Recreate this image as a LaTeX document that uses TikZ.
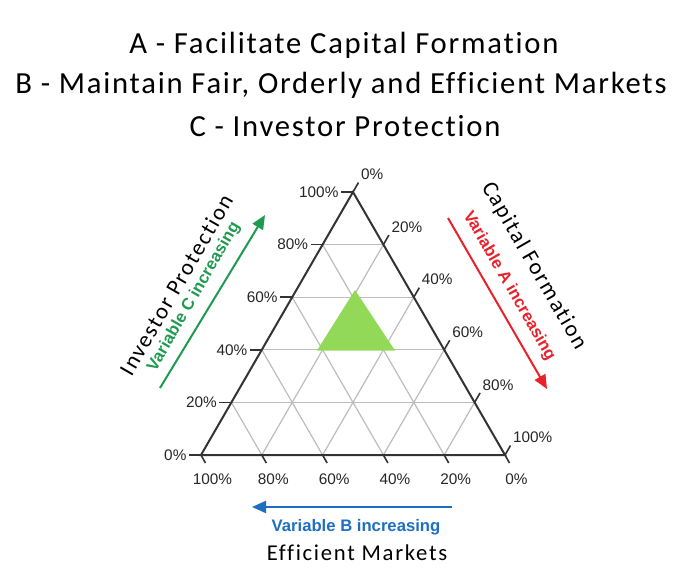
\documentclass[tikz,border=0pt]{standalone}
\usepackage{fontspec}
\setmainfont{Carlito}
\newfontfamily\titlefont[LetterSpace=5.8,Ligatures=NoCommon]{Carlito}
\newfontfamily\axisfont[LetterSpace=7.5,Ligatures=NoCommon]{Carlito}
\newfontfamily\labfont{Liberation Sans}
\usetikzlibrary{calc,arrows.meta}
\definecolor{gridgray}{HTML}{BDBDBD}
\definecolor{axisdark}{HTML}{333333}
\definecolor{varblue}{HTML}{1F6FC0}
\definecolor{varred}{HTML}{E8212B}
\definecolor{vargreen}{HTML}{1E9B50}
\definecolor{regiongreen}{HTML}{92D957}
\tikzset{
  gridline/.style={draw=gridgray, line width=0.9pt},
  axisline/.style={draw=axisdark, line width=1.5pt, line join=miter},
  tickline/.style={draw=axisdark, line width=1.2pt},
  ticklab/.style={font=\labfont\fontsize{11.5}{13}\selectfont, text=black!85, inner sep=1pt},
  vararrow/.style={line width=1.5pt, -{Triangle[length=10.5pt,width=9pt]}},
  varlab/.style={font=\labfont\bfseries\fontsize{12.5}{14}\selectfont, inner sep=0pt},
  axistitle/.style={font=\axisfont\fontsize{17}{20}\selectfont, inner sep=0pt},
  titlelab/.style={font=\titlefont\fontsize{23}{27}\selectfont, inner sep=0pt}
}
\begin{document}
\begin{tikzpicture}[x=0.75pt,y=-0.75pt]
\fill[white] (0,0) rectangle (686,582);
\useasboundingbox (0,0) rectangle (686,582);

% titles
\node[titlelab] (t1) at (344,45) {A - Facilitate Capital Formation};
\node[titlelab] (t2) at (341,85) {B - Maintain Fair, Orderly and Efficient Markets};
\node[titlelab] (t3) at (345,126) {C - Investor Protection};

% triangle corners
\coordinate (A) at (201,455);
\coordinate (B) at (505,455);
\coordinate (C) at (353,192);

% grid
\foreach \t in {0.2,0.4,0.6,0.8} {
  \draw[gridline] ($(A)!\t!(C)$) -- ($(B)!\t!(C)$);
  \draw[gridline] ($(A)!\t!(B)$) -- ($(C)!\t!(B)$);
  \draw[gridline] ($(A)!\t!(B)$) -- ($(A)!\t!(C)$);
}

% region
\fill[regiongreen] (355,290) -- (317,350.5) -- (395,350.5) -- cycle;

% main triangle
\draw[axisline] (A) -- (B) -- (C) -- cycle;

% ticks and labels
\foreach \k/\up/\down in {0/0/100,1/20/80,2/40/60,3/60/40,4/80/20,5/100/0} {
  \pgfmathsetmacro\f{\k/5}
  % left side
  \coordinate (L\k) at ($(A)!\f!(C)$);
  \draw[tickline] (L\k) -- ++(-12,0) coordinate (le\k);
  \node[ticklab, anchor=east] (ll\k) at ($(le\k)+(-1,0)$) {\up\%};
  % right side
  \coordinate (R\k) at ($(C)!\f!(B)$);
  \draw[tickline] (R\k) -- ++(5.5,-9.5) coordinate (re\k);
  \node[ticklab, anchor=south west] (rl\k) at ($(re\k)+(1,-1)$) {\up\%};
  % base
  \coordinate (Q\k) at ($(A)!\f!(B)$);
  \draw[tickline] (Q\k) -- ++(4.5,8) coordinate (qe\k);
  \node[ticklab, anchor=north] (ql\k) at ($(qe\k)+(7,9)$) {\down\%};
}

% variable arrows
\coordinate (gs) at (160,388);
\coordinate (ge) at (265,215);
\draw[vararrow, vargreen] (gs) -- (ge);
\node[varlab, text=vargreen, rotate=60] (gl) at (194,297) {Variable C increasing};
\node[axistitle, rotate=60] (gt) at (176,285) {Investor Protection};

\coordinate (rs) at (448,218);
\coordinate (reA) at (547,389);
\draw[vararrow, varred] (rs) -- (reA);
\node[varlab, text=varred, rotate=-60] (rlab) at (509,286) {Variable A increasing};
\node[axistitle, rotate=-60] (rt) at (534,266) {Capital Formation};

\coordinate (bs) at (452,507);
\coordinate (be) at (252,507);
\draw[vararrow, varblue] (bs) -- (be);
\node[varlab, text=varblue] (bl) at (356,527) {Variable B increasing};
\node[axistitle] (bt) at (357,553) {Efficient Markets};
\end{tikzpicture}
\end{document}
